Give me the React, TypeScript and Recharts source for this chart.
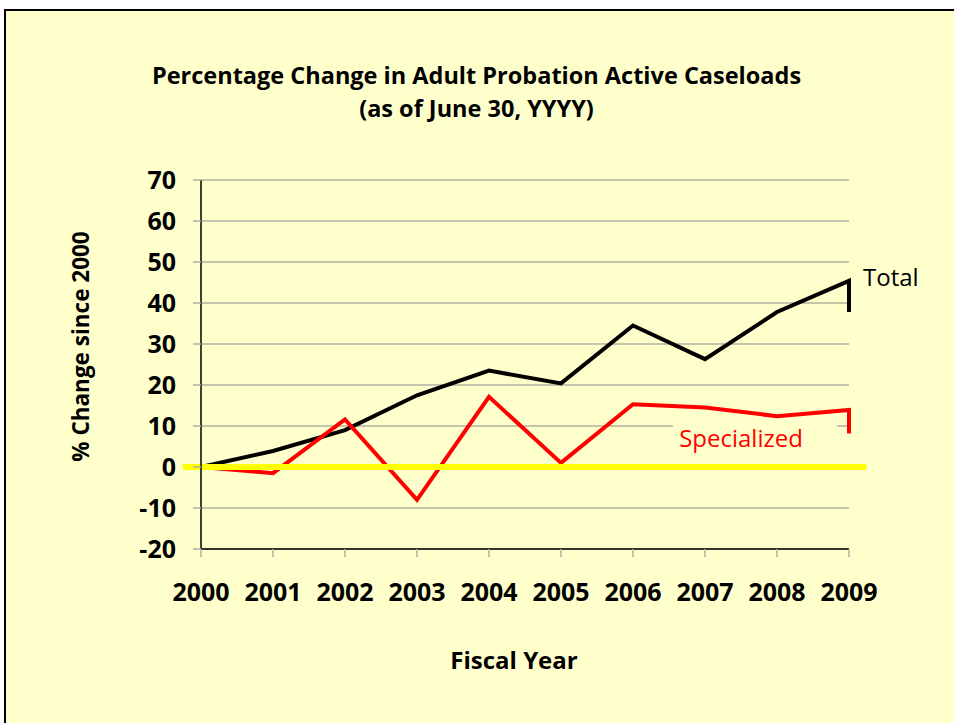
import { LineChart, Line, XAxis, YAxis, CartesianGrid, ReferenceLine, ReferenceDot } from "recharts";

const years = [2000, 2001, 2002, 2003, 2004, 2005, 2006, 2007, 2008, 2009];
const totalChange = [0, 3.9, 9.0, 17.5, 23.5, 20.4, 34.5, 26.3, 37.8, 45.4];
const specializedChange = [0, -1.5, 11.6, -8.0, 17.1, 1.0, 15.3, 14.5, 12.4, 13.9];
// the original lines end with a short downward stroke at 2009
const totalEndStroke = 37.8;
const specializedEndStroke = 8.2;
const yTicks = [-20, -10, 0, 10, 20, 30, 40, 50, 60, 70];

const FONT = "'Comic Sans MS', 'Open Sans', sans-serif";
const BG = "#FFFFCC";

const data = [
  ...years.map((year, i) => ({ year, total: totalChange[i], specialized: specializedChange[i] })),
  { year: years[years.length - 1], total: totalEndStroke, specialized: specializedEndStroke },
];

const YTitle = ({ viewBox }: any) => {
  const cx = viewBox.x + 80;
  const cy = viewBox.y + viewBox.height / 2 - 18;
  return (
    <text x={cx} y={cy} transform={`rotate(-90 ${cx} ${cy})`} textAnchor="middle" dominantBaseline="central"
      fontFamily={FONT} fontWeight="bold" fontSize={22.5} fill="#000">
      % Change since 2000
    </text>
  );
};

const XTitle = ({ viewBox }: any) => (
  <text x={viewBox.x + viewBox.width / 2 - 11} y={viewBox.y + 120} textAnchor="middle"
    fontFamily={FONT} fontWeight="bold" fontSize={24} fill="#000">
    Fiscal Year
  </text>
);

const TotalLabel = ({ viewBox }: any) => (
  <text x={viewBox.x + 14} y={viewBox.y + 5} fontFamily={FONT} fontSize={24} fill="#000">Total</text>
);

const SpecializedLabel = ({ viewBox }: any) => (
  <g>
    <rect x={viewBox.x - 68} y={viewBox.y - 25} width={164} height={30} fill={BG} />
    <text x={viewBox.x} y={viewBox.y} textAnchor="middle" fontFamily={FONT} fontSize={24} fill="#FF0000">Specialized</text>
  </g>
);

export default function App() {
  return (
    <div style={{ position: "absolute", left: 0, top: 0, width: 954, height: 723, overflow: "hidden", background: "#fff" }}>
      <div style={{ position: "absolute", left: 4, top: 9, width: 1000, height: 800, border: "2.5px solid #000", background: BG }} />
      <div style={{ position: "absolute", left: 0, top: 59, width: 953, textAlign: "center", fontFamily: FONT, fontWeight: "bold", fontSize: 23.5, lineHeight: "33px" }}>
        Percentage Change in Adult Probation Active Caseloads
        <br />
        (as of June 30, YYYY)
      </div>
      <div style={{ position: "absolute", left: 0, top: 0 }}>
        <LineChart width={954} height={723} data={data} margin={{ top: 180, right: 105, bottom: 0, left: 0 }}>
          <CartesianGrid vertical={false} stroke="#B2B2A2" strokeWidth={1.5} />
          <XAxis dataKey="year" type="number" domain={[2000, 2009]} ticks={years} interval={0}
            height={174} tickSize={8} tickMargin={26}
            tickLine={{ stroke: "#B2B2A2", strokeWidth: 1.5 }} axisLine={{ stroke: "#000", strokeWidth: 1.5 }}
            tick={{ fill: "#000", fontFamily: FONT, fontWeight: "bold", fontSize: 25 }}
            label={<XTitle />} />
          <YAxis type="number" domain={[-20, 70]} ticks={yTicks} interval={0}
            width={201} tickSize={8} tickMargin={17}
            tickLine={{ stroke: "#B2B2A2", strokeWidth: 1.5 }} axisLine={{ stroke: "#000", strokeWidth: 1.5 }}
            tick={{ fill: "#000", fontFamily: FONT, fontWeight: "bold", fontSize: 25 }}
            label={<YTitle />} />
          <ReferenceDot x={2007.5} y={5} r={0} ifOverflow="visible" label={<SpecializedLabel />} />
          <Line type="linear" dataKey="total" stroke="#000" strokeWidth={4} dot={false} isAnimationActive={false} />
          <Line type="linear" dataKey="specialized" stroke="#FF0000" strokeWidth={4} dot={false} isAnimationActive={false} />
          <ReferenceLine segment={[{ x: 1999.75, y: 0 }, { x: 2009.24, y: 0 }]} ifOverflow="visible" stroke="#FFFF00" strokeWidth={6} />
          <ReferenceDot x={2009} y={45.4} r={0} ifOverflow="visible" label={<TotalLabel />} />
        </LineChart>
      </div>
    </div>
  );
}
